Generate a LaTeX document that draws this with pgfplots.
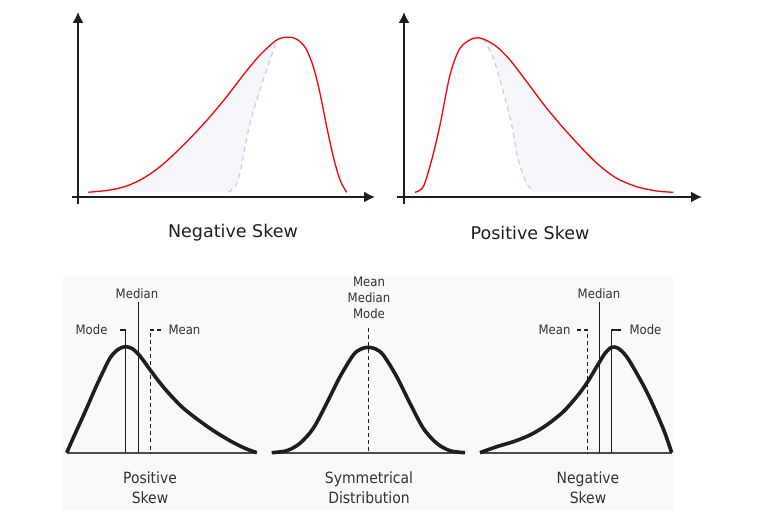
\documentclass[border=0pt]{standalone}
\usepackage{fontspec}
\setmainfont{DejaVu Sans}
\newfontfamily\condfont{DejaVu Sans Condensed}
\usepackage{pgfplots}
\pgfplotsset{compat=1.18}
\usepgfplotslibrary{fillbetween}
\usetikzlibrary{arrows.meta}

\definecolor{skewred}{RGB}{255,0,0}
\definecolor{dashblue}{RGB}{196,202,234}
\definecolor{tailfill}{RGB}{245,247,251}
\definecolor{panelbg}{RGB}{249,249,249}
\definecolor{ink}{RGB}{30,30,30}
\definecolor{txt}{RGB}{50,50,50}

\newcommand\smallf{\condfont\fontsize{13}{16}\selectfont}
\newcommand\bigf{\condfont\fontsize{15.5}{20}\selectfont}

\pgfplotsset{
  sketch/.style={scale only axis, anchor=south west, clip=false,
    xtick=\empty, ytick=\empty},
  toppanel/.style={sketch, axis lines=middle,
    axis line style={ink, line width=1.6pt},
    every inner x axis line/.append style={-{Latex[length=11pt,width=11pt]}},
    every inner y axis line/.append style={-{Latex[length=11pt,width=11pt]}}},
}

\begin{document}
\begin{tikzpicture}
\path (0,0) rectangle (767pt,510pt);

% top left: negative skew
\begin{axis}[toppanel, at={(72pt,306pt)}, width=303pt, height=192pt,
  xmin=-6, xmax=297, ymin=-7, ymax=185]
% left part of the red curve, up to where the dashed curve leaves it
\addplot[name path=negleft, draw=none, smooth] coordinates {
 (10.3,4.7) (32,7) (48.7,11) (65.3,18.7) (82,30.3) (98.7,45.3) (115.3,62)
 (132,80.3) (148.7,100.3) (165.3,122) (182,142) (198.7,157)};
\addplot[name path=negdash, dashblue, line width=1.1pt, dash pattern=on 5pt off 4pt, smooth] coordinates {
 (150.3,4.7) (157,10.3) (162,23.7) (167,50.3) (172,73.7) (178.7,97)
 (185.3,117) (192,137) (198.7,157)};
\addplot[tailfill] fill between[of=negleft and negdash];
\addplot[skewred, line width=1.3pt, smooth] coordinates {
 (10.3,4.7) (32,7) (48.7,11) (65.3,18.7) (82,30.3) (98.7,45.3) (115.3,62)
 (132,80.3) (148.7,100.3) (165.3,122) (182,142) (198.7,157) (208.7,159.7)
 (216,159) (222.5,155) (228.7,147) (235.3,130.3) (242,103.7) (248.7,70.3)
 (255.3,40.3) (262,17) (268.7,4.7)};
\node[font=\fontsize{17.5}{20}\selectfont, text=ink] at (axis cs:155,-36) {Negative Skew};
\end{axis}

% top right: positive skew
\begin{axis}[toppanel, at={(397pt,306pt)}, width=305pt, height=192pt,
  xmin=-7, xmax=298, ymin=-7, ymax=185]
% right part of the red curve, from where the dashed curve leaves it
\addplot[name path=posright, draw=none, smooth] coordinates {
 (79.3,158) (92.7,150.3) (106,137) (122.7,115.3) (142.7,88.7) (162.7,65.3)
 (182.7,43.7) (196,31) (212.7,18.7) (232.7,10.3) (252.7,6) (269.3,4.7)};
\addplot[name path=posdash, dashblue, line width=1.1pt, dash pattern=on 5pt off 4pt, smooth] coordinates {
 (79.3,158) (89.3,138.7) (99.3,105.3) (107.7,72) (112.7,43.7) (117,28)
 (122.5,14) (129.3,4.7)};
\addplot[tailfill] fill between[of=posright and posdash];
\addplot[skewred, line width=1.3pt, smooth] coordinates {
 (11,4.7) (19.3,10.3) (27.7,37) (36,72) (46,122) (56,148.7) (69.3,158.7)
 (79.3,158) (92.7,150.3) (106,137) (122.7,115.3) (142.7,88.7) (162.7,65.3)
 (182.7,43.7) (196,31) (212.7,18.7) (232.7,10.3) (252.7,6) (269.3,4.7)};
\node[font=\fontsize{17.5}{20}\selectfont, text=ink] at (axis cs:126,-36) {Positive Skew};
\end{axis}

% bottom: three schematic distributions, pixel coordinates
\begin{axis}[sketch, at={(63pt,0pt)}, width=610pt, height=235pt,
  xmin=63, xmax=673, ymin=275, ymax=510, y dir=reverse,
  axis line style={draw=none}, axis background/.style={fill=panelbg}]
% baselines
\addplot[black!70, line width=1.2pt] coordinates {(66.7,453) (256.7,453)};
\addplot[black!70, line width=1.2pt] coordinates {(271.7,453) (465,453)};
\addplot[black!70, line width=1.2pt] coordinates {(480,453) (671.7,453)};
% positive skew markers
\addplot[ink, line width=1.2pt] coordinates {(119.5,330) (125.5,330) (125.5,453)};
\addplot[ink, line width=1.2pt] coordinates {(138.3,301.7) (138.3,453)};
\addplot[ink, line width=1.2pt, dash pattern=on 4pt off 3pt] coordinates {(161,330) (150.5,330) (150.5,453)};
% symmetrical marker
\addplot[ink, line width=1.2pt, dash pattern=on 4pt off 3pt] coordinates {(368.3,328.3) (368.3,453)};
% negative skew markers
\addplot[ink, line width=1.2pt] coordinates {(620.5,330) (611.7,330) (611.7,453)};
\addplot[ink, line width=1.2pt] coordinates {(599.3,301.7) (599.3,453)};
\addplot[ink, line width=1.2pt, dash pattern=on 4pt off 3pt] coordinates {(577,330) (587.3,330) (587.3,453)};
% curves
\addplot[ink, line width=3.6pt, smooth] coordinates {
 (66.7,452.7) (75,434) (85,412) (95,389) (102,374) (110,358) (118,349.5)
 (125,346.7) (132,348.5) (140,356) (151.7,372) (165,389) (181.7,406.7)
 (198.3,420) (215,431.7) (231.7,441.7) (245,448.3) (256.7,452.7)};
\addplot[ink, line width=3.6pt, smooth] coordinates {
 (271.7,452.7) (286.7,450.7) (300,443.3) (313.3,428.3) (326.7,403.3)
 (340,376.7) (353.3,355) (361,349) (368.3,347.3) (375.6,349) (383.3,355)
 (396.7,376.7) (410,403.3) (423.3,428.3) (436.7,443.3) (450,450.7) (465,452.7)};
\addplot[ink, line width=3.6pt, smooth] coordinates {
 (480,452.7) (496.7,446.7) (513.3,441.7) (530,435) (546.7,425)
 (563.3,411.7) (576.7,396.7) (586.7,383.3) (596.7,366.7) (605,353.3)
 (611.7,347.3) (618.3,348.3) (626.7,356.7) (636.7,373.3) (646.7,391.7)
 (656.7,413.3) (665,433.3) (671.7,452.7)};
% labels
\node[font=\smallf, text=txt, anchor=east] at (axis cs:111,330) {Mode};
\node[font=\smallf, text=txt] at (axis cs:137,293.5) {Median};
\node[font=\smallf, text=txt, anchor=west] at (axis cs:165,330) {Mean};
\node[font=\smallf, text=txt, align=center] at (axis cs:369,297.5) {Mean\\Median\\Mode};
\node[font=\smallf, text=txt, anchor=east] at (axis cs:574,330) {Mean};
\node[font=\smallf, text=txt] at (axis cs:599,293.5) {Median};
\node[font=\smallf, text=txt, anchor=west] at (axis cs:626,330) {Mode};
\node[font=\bigf, text=txt, align=center] at (axis cs:150,488) {Positive\\Skew};
\node[font=\bigf, text=txt, align=center] at (axis cs:369,488) {Symmetrical\\Distribution};
\node[font=\bigf, text=txt, align=center] at (axis cs:588,488) {Negative\\Skew};
\end{axis}
\end{tikzpicture}
\end{document}
